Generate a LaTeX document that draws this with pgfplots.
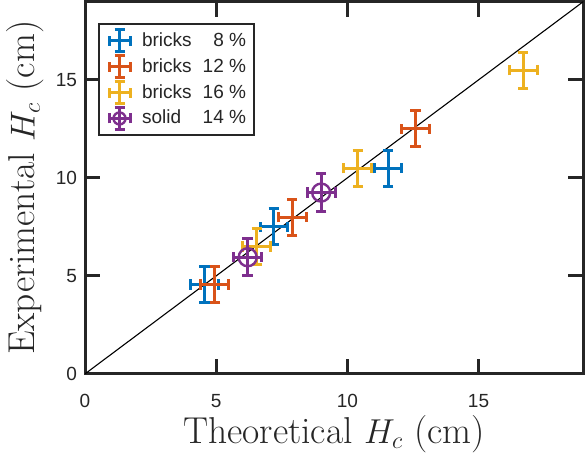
\documentclass[border=0pt]{standalone}
\usepackage{fontspec}
\usepackage{pgfplots}
\pgfplotsset{compat=1.18}
\usepackage{pgfplotstable}
\newfontfamily\helv{Liberation Sans}
\definecolor{mblue}{rgb}{0,0.447,0.741}
\definecolor{morange}{rgb}{0.85,0.325,0.098}
\definecolor{myellow}{rgb}{0.929,0.694,0.125}
\definecolor{mpurple}{rgb}{0.494,0.184,0.556}
\definecolor{axgray}{rgb}{0.15,0.15,0.15}

\pgfplotstableread{
x y ex ey
4.55 4.55 0.53 0.92
7.20 7.50 0.53 0.92
11.55 10.50 0.53 0.92
}\tblue
\pgfplotstableread{
x y ex ey
4.95 4.55 0.53 0.92
7.90 8.00 0.53 0.92
12.60 12.50 0.53 0.92
}\torange
\pgfplotstableread{
x y ex ey
6.55 6.50 0.53 0.92
10.40 10.50 0.53 0.92
16.70 15.50 0.53 0.92
}\tyellow
\pgfplotstableread{
x y ex ey
6.20 5.95 0.53 0.95
9.00 9.25 0.53 0.95
}\tpurple

\pgfplotsset{
  errstyle/.style={
    draw=none, no markers, color=#1,
    error bars/.cd, x dir=both, x explicit, y dir=both, y explicit,
    error bar style={line width=1.5pt, color=#1},
    error mark options={line width=1.5pt, mark size=2.6pt, color=#1, rotate=90},
    /pgfplots/.cd,
  },
  crosslegend/.style={legend image code/.code={
    \path (0pt,0pt) -- (17.5pt,0pt);
    \draw[color=#1, line width=1.5pt] (8.25pt,-5.5pt)--(8.25pt,5.5pt) (3pt,0pt)--(13.5pt,0pt);
    \draw[color=#1, line width=1.5pt] (5.75pt,5.5pt)--(10.75pt,5.5pt) (5.75pt,-5.5pt)--(10.75pt,-5.5pt) (3pt,-2.5pt)--(3pt,2.5pt) (13.5pt,-2.5pt)--(13.5pt,2.5pt);
  }},
  crosslegendo/.style={legend image code/.code={
    \path (0pt,0pt) -- (17.5pt,0pt);
    \draw[color=#1, line width=1.5pt] (8.25pt,-5.5pt)--(8.25pt,5.5pt) (3pt,0pt)--(13.5pt,0pt);
    \draw[color=#1, line width=1.5pt] (5.75pt,5.5pt)--(10.75pt,5.5pt) (5.75pt,-5.5pt)--(10.75pt,-5.5pt) (3pt,-2.5pt)--(3pt,2.5pt) (13.5pt,-2.5pt)--(13.5pt,2.5pt);
    \draw[color=#1, line width=1.2pt] (8.25pt,0pt) circle (3pt);
  }},
}

\newcommand{\lent}[2]{\makebox[3.05em][l]{#1}\makebox[2.42em][r]{#2}}

\begin{document}
\begin{tikzpicture}
\begin{axis}[
  scale only axis,
  width=249pt, height=186pt,
  xmin=0, xmax=19, ymin=0, ymax=19,
  xtick={0,5,10,15}, ytick={0,5,10,15},
  tick align=inside,
  major tick length=7.5pt,
  axis line style={line width=1.5pt, color=axgray},
  every tick/.style={line width=1.5pt, color=axgray},
  /pgf/number format/assume math mode=true,
  ticklabel style={font=\helv\fontsize{9.5}{11}\selectfont, color=axgray},
  xticklabel style={yshift=-6.5pt},
  yticklabel style={xshift=-0.5pt},
  xlabel={Theoretical $H_c$ (cm)},
  ylabel={Experimental $H_c$ (cm)},
  label style={font=\fontsize{18.7}{22}\selectfont, color=axgray},
  xlabel style={yshift=3pt},
  ylabel style={yshift=-1pt},
  legend style={at={(axis description cs:0.026,0.941)}, anchor=north west,
    draw=axgray, line width=1pt, font=\helv\fontsize{9.5}{11}\selectfont,
    text=axgray, row sep=0.4pt, inner sep=2pt},
  legend cell align=left,
]
\addplot[black, line width=0.55pt, forget plot] coordinates {(0,0) (19,19)};
\addplot[crosslegend=mblue, errstyle=mblue] table[x=x,y=y,x error=ex,y error=ey] {\tblue};
\addlegendentry{\lent{bricks}{8 \%}}
\addplot[crosslegend=morange, errstyle=morange] table[x=x,y=y,x error=ex,y error=ey] {\torange};
\addlegendentry{\lent{bricks}{12 \%}}
\addplot[crosslegend=myellow, errstyle=myellow] table[x=x,y=y,x error=ex,y error=ey] {\tyellow};
\addlegendentry{\lent{bricks}{16 \%}}
\addplot[crosslegendo=mpurple, errstyle=mpurple] table[x=x,y=y,x error=ex,y error=ey] {\tpurple};
\addlegendentry{\lent{solid}{14 \%}}
\addplot[only marks, mark=o, mark size=4.5pt, mpurple, mark options={line width=1.2pt}, forget plot] table[x=x,y=y] {\tpurple};
\end{axis}
\end{tikzpicture}
\end{document}
